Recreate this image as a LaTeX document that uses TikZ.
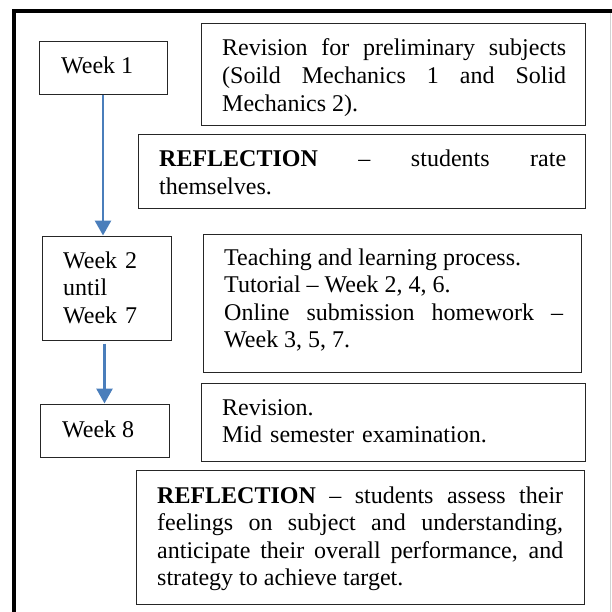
\documentclass[tikz,border=0pt]{standalone}
\usepackage{fontspec}
\setmainfont{Liberation Serif}
\usetikzlibrary{arrows.meta}
\definecolor{arrowblue}{HTML}{4A7EBB}
\hbadness=10000
\tolerance=10000
\begin{document}
\begin{tikzpicture}[x=1pt,y=-1pt,
  box/.style={draw=black!85, line width=1pt, rectangle, inner sep=0pt},
  txt/.style={anchor=base west, inner sep=0pt, font=\fontsize{24}{27.6}\selectfont},
  jtxt/.style={txt, align=justify},
  flow/.style={draw=arrowblue, line width=2.8pt, -{Triangle[width=16pt,length=15pt]}},
  frame/.style={line width=4pt, draw=black}]
\useasboundingbox (0,0) rectangle (612,612);
% outer frame
\draw[frame] (14,612) -- (14,11.3) -- (612,11.3);
\draw[gray!35, line width=1pt] (610.5,13) -- (610.5,612);
% boxes
\node[box, minimum width=128pt, minimum height=53pt] (w1) at (103,68.5) {};
\node[box, minimum width=384pt, minimum height=102pt] (rev1) at (393,75) {};
\node[box, minimum width=447pt, minimum height=74pt] (refl1) at (361.5,172) {};
\node[box, minimum width=129pt, minimum height=104pt] (w2) at (106.5,288) {};
\node[box, minimum width=378pt, minimum height=138pt] (teach) at (392,303) {};
\node[box, minimum width=129pt, minimum height=53pt] (w8) at (104.5,430.5) {};
\node[box, minimum width=384pt, minimum height=78pt] (rev2) at (393,422) {};
\node[box, minimum width=448pt, minimum height=134pt] (refl2) at (360,537) {};
% texts
\node[txt] (tw1) at (61,74) {Week 1};
\node[jtxt, text width=344pt] (trev1) at (222,56) {Revision for preliminary subjects\linebreak (Soild Mechanics 1 and Solid\linebreak Mechanics 2).};
\node[jtxt, text width=407pt] (trefl1) at (159,166.5) {\textbf{REFLECTION} – students rate\linebreak themselves.};
\node[txt, align=left, text width=100pt] (tw2) at (63,268) {Week 2\\until\\Week 7};
\node[jtxt, text width=339pt] (tteach) at (224,265) {Teaching and learning process.\\Tutorial – Week 2, 4, 6.\\Online submission homework –\linebreak Week 3, 5, 7.};
\node[txt] (tw8) at (62,437) {Week 8};
\node[txt, align=left, text width=340pt] (trev2) at (222,415) {Revision.\\Mid semester examination.};
\node[jtxt, text width=406pt] (trefl2) at (157,503) {\textbf{REFLECTION} – students assess their\linebreak feelings on subject and understanding,\linebreak anticipate their overall performance, and\linebreak strategy to achieve target.};
% arrows
\draw[flow] (w1.south) -- (w1.south |- w2.north);
\draw[flow] ([yshift=-3pt]w2.south -| w8.north) -- (w8.north);
\end{tikzpicture}
\end{document}
